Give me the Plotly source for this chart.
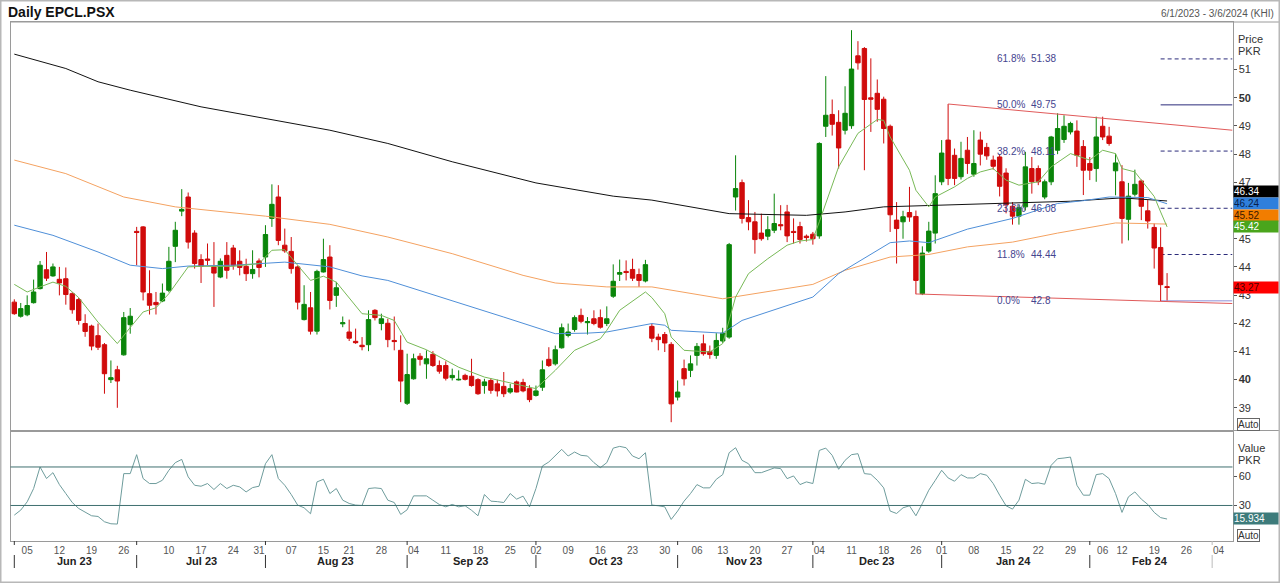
import plotly.graph_objects as go
import pandas as pd

# ---------------- data ----------------
holidays = ["2023-06-28", "2023-06-29", "2023-06-30", "2023-07-28", "2023-08-14",
            "2023-09-29", "2023-11-09", "2023-12-25", "2024-02-05", "2024-02-08"]
weekdays = [d.strftime("%Y-%m-%d") for d in pd.bdate_range("2023-06-01", "2024-02-21")]
dates = [d for d in weekdays if d not in holidays]

opens = [42.75, 42.25, 42.30, 42.73, 43.23, 43.90, 43.68, 43.56, 43.58, 43.05,
         42.84, 41.99, 41.90, 41.56, 41.24, 40.00, 40.35, 40.88, 41.95, 45.26,
         45.42, 43.05, 42.74, 42.79, 43.17, 44.73, 45.98, 46.48, 45.20, 44.26,
         44.28, 44.00, 43.64, 44.41, 44.67, 44.20, 44.02, 43.76, 44.21, 44.35,
         45.72, 46.48, 44.77, 44.55, 44.00, 42.13, 42.55, 41.72, 43.82, 44.35,
         42.99, 41.98, 41.69, 41.36, 41.22, 41.24, 42.46, 41.99, 42.00, 41.39,
         41.04, 39.16, 40.03, 40.83, 40.56, 40.90, 40.50, 40.50, 40.07, 39.99,
         40.15, 40.12, 40.00, 39.79, 39.97, 39.85, 39.76, 39.56, 39.92, 39.90,
         39.68, 39.44, 39.73, 40.72, 40.56, 41.13, 41.57, 41.78, 42.28, 42.02,
         42.16, 42.20, 41.99, 42.96, 43.74, 43.84, 43.91, 43.73, 43.50, 41.89,
         41.51, 41.60, 41.25, 39.38, 40.39, 40.33, 40.86, 41.27, 41.00, 40.86,
         41.37, 41.51, 46.48, 46.99, 45.75, 45.60, 45.20, 45.09, 45.30, 45.50,
         45.95, 45.26, 45.43, 45.09, 45.16, 45.10, 48.99, 49.41, 49.13, 48.85,
         49.01, 51.49, 51.75, 50.00, 50.16, 49.95, 48.99, 45.66, 45.60, 45.93,
         45.79, 43.05, 44.56, 45.20, 47.02, 48.50, 47.96, 47.20, 48.14, 47.29,
         48.50, 48.24, 47.79, 47.90, 47.33, 46.15, 45.80, 46.13, 47.49, 47.49,
         46.48, 47.02, 48.14, 48.52, 48.79, 48.82, 48.27, 47.67, 47.49, 48.99,
         48.64, 47.41, 47.02, 45.69, 46.58, 47.05, 45.99, 45.40, 44.69, 43.30]
highs = [42.85, 42.72, 42.99, 43.55, 44.21, 44.53, 44.12, 44.00, 43.98, 43.10,
         42.90, 42.32, 41.95, 41.99, 41.30, 40.68, 40.49, 42.40, 42.54, 45.42,
         45.45, 43.88, 43.11, 43.41, 44.71, 45.60, 46.76, 46.64, 45.30, 44.45,
         44.83, 44.88, 44.30, 44.88, 44.78, 44.59, 44.29, 44.59, 44.30, 45.48,
         46.93, 46.90, 45.36, 45.06, 44.05, 43.35, 43.11, 43.90, 45.00, 44.77,
         43.47, 42.24, 42.13, 41.81, 41.51, 42.46, 42.50, 42.34, 42.16, 42.24,
         41.57, 40.92, 40.92, 40.94, 41.04, 41.01, 40.68, 40.65, 40.39, 40.33,
         40.21, 40.74, 40.05, 40.03, 40.05, 40.00, 40.27, 39.85, 39.97, 40.03,
         39.80, 39.79, 40.68, 41.15, 41.21, 41.99, 41.99, 42.28, 42.52, 42.22,
         42.46, 42.49, 42.60, 44.09, 44.26, 44.23, 44.29, 43.94, 44.25, 41.99,
         41.63, 41.69, 41.33, 39.97, 40.71, 40.86, 41.30, 41.60, 41.21, 41.65,
         41.84, 44.85, 47.96, 47.10, 46.37, 45.95, 45.89, 45.80, 46.60, 46.19,
         46.20, 45.72, 45.60, 45.15, 45.24, 48.42, 50.77, 49.94, 49.56, 50.41,
         52.40, 52.01, 51.80, 51.40, 50.65, 50.04, 49.05, 46.30, 45.99, 46.84,
         46.00, 44.73, 45.60, 47.25, 48.50, 49.78, 48.20, 48.44, 48.61, 48.85,
         48.80, 48.40, 47.95, 48.00, 47.50, 46.30, 46.20, 48.08, 47.90, 47.60,
         47.10, 48.65, 49.45, 49.38, 49.15, 49.20, 48.50, 47.90, 49.33, 49.33,
         48.97, 48.02, 47.61, 46.98, 47.45, 47.10, 46.37, 45.54, 45.40, 43.78]
lows = [42.30, 42.20, 42.25, 42.70, 43.20, 43.50, 43.65, 42.99, 42.66, 42.34,
        41.95, 41.52, 41.04, 41.05, 39.50, 39.88, 39.00, 40.85, 41.63, 44.06,
        42.81, 42.31, 42.31, 42.75, 43.10, 44.17, 45.80, 44.65, 43.94, 43.43,
        44.06, 42.58, 43.60, 43.58, 43.90, 43.70, 43.50, 43.58, 43.63, 44.00,
        45.42, 44.77, 44.50, 43.76, 42.49, 42.10, 41.60, 41.60, 43.80, 42.49,
        42.58, 41.86, 41.37, 41.27, 41.04, 41.01, 42.10, 41.75, 41.15, 41.04,
        39.20, 39.10, 40.00, 40.50, 40.03, 40.45, 40.21, 39.97, 39.97, 39.97,
        39.97, 39.75, 39.46, 39.50, 39.50, 39.40, 39.38, 39.50, 39.55, 39.55,
        39.20, 39.40, 39.60, 40.45, 40.50, 41.10, 41.50, 41.70, 42.00, 41.60,
        41.93, 41.81, 41.90, 42.90, 43.50, 43.52, 43.50, 43.29, 43.45, 41.33,
        41.04, 40.98, 38.49, 39.26, 39.79, 40.09, 40.50, 40.85, 40.74, 40.74,
        41.30, 41.45, 46.00, 45.54, 45.30, 44.47, 44.93, 44.95, 45.20, 45.30,
        44.88, 44.83, 44.83, 44.90, 44.79, 45.00, 48.61, 48.66, 47.49, 48.70,
        48.90, 51.00, 47.43, 48.79, 49.15, 48.38, 45.24, 44.12, 45.00, 45.60,
        43.03, 43.00, 44.50, 44.83, 46.90, 46.90, 46.90, 47.10, 47.30, 47.20,
        47.60, 47.80, 47.45, 46.50, 45.90, 45.50, 45.50, 46.00, 46.60, 46.90,
        46.40, 46.90, 48.00, 48.40, 48.70, 47.55, 46.55, 47.08, 47.02, 48.50,
        48.30, 46.54, 44.83, 44.94, 46.50, 45.66, 45.36, 43.94, 42.79, 42.81]
closes = [42.34, 42.52, 42.63, 43.11, 44.06, 43.60, 44.00, 43.43, 43.02, 42.48,
          42.10, 41.71, 41.19, 41.15, 40.21, 40.07, 39.95, 42.20, 42.25, 45.22,
          43.11, 42.64, 42.66, 43.07, 44.20, 45.30, 46.04, 44.88, 44.12, 44.02,
          44.24, 43.78, 44.20, 43.88, 44.06, 43.98, 43.76, 43.91, 43.98, 45.15,
          46.22, 44.94, 44.57, 43.94, 42.75, 42.67, 41.72, 43.84, 44.26, 42.81,
          43.26, 42.02, 41.47, 41.31, 41.17, 42.13, 42.20, 42.16, 41.42, 41.35,
          39.95, 40.18, 40.74, 40.72, 40.74, 40.50, 40.30, 40.05, 40.15, 40.01,
          40.01, 39.79, 39.50, 39.92, 39.62, 39.60, 39.50, 39.68, 39.56, 39.60,
          39.29, 39.60, 40.35, 40.50, 41.06, 41.84, 41.69, 42.20, 42.07, 42.06,
          41.99, 41.86, 42.16, 43.49, 43.80, 43.80, 43.60, 43.52, 44.08, 41.47,
          41.42, 41.30, 39.14, 39.56, 40.03, 40.56, 41.18, 40.92, 40.89, 41.39,
          41.65, 44.79, 46.78, 45.72, 45.60, 44.97, 45.00, 45.32, 45.54, 45.46,
          45.10, 45.22, 44.97, 45.04, 45.00, 48.38, 49.38, 49.06, 48.22, 49.45,
          51.02, 51.24, 49.94, 49.95, 49.59, 48.91, 45.85, 45.36, 45.78, 45.77,
          43.52, 44.49, 45.27, 46.60, 48.04, 47.14, 47.14, 47.85, 47.67, 47.67,
          48.00, 47.94, 47.57, 46.86, 46.20, 45.80, 46.10, 47.55, 47.02, 47.02,
          47.02, 48.61, 48.91, 48.99, 49.09, 47.96, 47.43, 47.43, 48.61, 48.61,
          48.38, 47.69, 45.72, 46.51, 46.93, 46.15, 45.63, 44.67, 43.37, 43.27]

rsi = [20.0, 25.2, 33.8, 47.6, 70.0, 58.0, 64.1, 51.7, 42.4, 33.1,
       26.9, 23.0, 19.3, 18.6, 13.1, 11.0, 10.7, 63.1, 63.1, 82.8,
       58.0, 52.8, 52.8, 56.2, 66.6, 74.5, 77.9, 59.7, 51.0, 50.0,
       52.8, 46.6, 52.8, 47.6, 51.0, 49.3, 44.1, 48.6, 50.0, 73.4,
       82.8, 58.0, 51.0, 41.4, 30.4, 27.6, 21.4, 54.5, 57.2, 42.4,
       47.6, 35.5, 32.1, 30.4, 30.0, 47.6, 48.3, 47.6, 35.5, 33.1,
       20.7, 25.5, 40.0, 40.0, 40.0, 35.5, 31.0, 28.6, 31.1, 28.6,
       29.7, 25.0, 19.3, 41.4, 34.5, 34.0, 33.1, 42.4, 36.6, 39.7,
       28.6, 47.6, 71.0, 75.2, 82.0, 88.3, 81.4, 85.5, 82.1, 81.4,
       74.5, 69.3, 74.5, 89.6, 91.4, 90.0, 81.4, 78.6, 84.8, 30.4,
       29.7, 28.6, 15.5, 24.2, 34.5, 42.4, 51.7, 48.3, 48.3, 57.2,
       62.1, 84.8, 90.0, 76.9, 73.4, 64.1, 64.1, 66.6, 69.0, 68.3,
       57.9, 60.7, 51.7, 54.5, 52.8, 87.2, 89.6, 82.1, 67.6, 76.9,
       82.8, 83.8, 63.1, 62.4, 56.2, 48.3, 24.2, 21.7, 27.6, 29.7,
       19.3, 32.1, 45.9, 56.0, 66.6, 58.6, 55.2, 62.1, 58.6, 58.6,
       63.1, 61.4, 52.8, 40.7, 29.7, 26.2, 35.5, 57.2, 52.8, 53.5,
       52.1, 71.7, 78.6, 79.3, 80.3, 51.0, 40.7, 40.7, 62.1, 63.1,
       57.9, 42.4, 22.8, 39.0, 44.1, 36.6, 31.1, 22.8, 17.4, 15.934]

# moving averages (trading-day index -> value)
ma_black_idx = [0, 8, 13, 18, 29, 39, 49, 58, 68, 81, 93, 99, 111, 123, 129, 135, 148, 164, 172, 179]
ma_black = [51.55, 51.04, 50.57, 50.27, 49.68, 49.27, 48.85, 48.38, 47.73, 46.98,
            46.51, 46.37, 45.89, 45.83, 45.95, 46.13, 46.22, 46.33, 46.45, 46.34]
ma_orange_idx = [0, 8, 17, 25, 39, 44, 49, 58, 68, 79, 84, 92, 99, 110, 118, 124, 129, 136, 142, 148, 155, 162, 171, 179]
ma_orange = [47.79, 47.31, 46.48, 46.13, 45.80, 45.66, 45.51, 45.06, 44.47, 43.70,
             43.43, 43.29, 43.29, 42.87, 43.17, 43.38, 43.88, 44.35, 44.44, 44.71,
             44.88, 45.20, 45.56, 45.52]
ma_blue_idx = [0, 6, 13, 18, 23, 27, 34, 39, 42, 49, 54, 58, 68, 76, 84, 89, 92, 99, 101, 102,
               110, 113, 124, 128, 136, 139, 142, 148, 155, 162, 166, 170, 176, 179]
ma_blue = [45.48, 45.12, 44.53, 44.06, 43.94, 44.03, 44.06, 44.12, 44.17, 44.00,
           43.68, 43.52, 42.81, 42.22, 41.63, 41.65, 41.69, 41.99, 41.93, 41.75,
           41.65, 42.10, 42.93, 43.76, 44.86, 44.92, 44.86, 45.34, 45.72, 46.25,
           46.35, 46.48, 46.46, 46.24]
ma_green_idx = [0, 2, 4, 6, 8, 10, 13, 16, 18, 20, 22, 24, 27, 29, 34, 38, 40, 42, 44, 46,
                48, 50, 54, 57, 59, 61, 64, 66, 69, 73, 77, 81, 84, 87, 91, 92, 94, 98, 99, 101,
                102, 104, 108, 110, 112, 114, 117, 120, 122, 124, 125, 128, 131, 134, 135, 136, 139, 140, 142, 143,
                146, 148, 150, 152, 154, 156, 159, 161, 164, 167, 169, 171, 172, 174, 175, 177, 178, 179]
ma_green = [43.38, 43.11, 43.29, 43.46, 43.31, 42.91, 42.04, 41.28, 41.85, 42.40,
            42.55, 43.05, 44.00, 44.02, 44.02, 44.12, 44.59, 44.61, 44.06, 43.52,
            43.67, 43.46, 42.34, 42.28, 42.10, 41.33, 41.06, 40.80, 40.44, 40.09,
            39.88, 39.68, 40.33, 41.04, 41.45, 41.75, 42.46, 43.11, 42.91, 42.34,
            41.51, 41.04, 40.98, 41.28, 42.93, 43.76, 44.29, 44.77, 44.92, 44.97,
            45.60, 47.55, 48.74, 49.23, 49.20, 48.61, 47.43, 46.72, 46.13, 46.48,
            46.84, 47.14, 47.37, 47.49, 47.08, 46.90, 47.02, 47.55, 48.02, 47.79,
            48.14, 48.02, 47.49, 47.37, 47.08, 46.50, 45.95, 45.42]

fib_pct = ["61.8%", "50.0%", "38.2%", "23.6%", "11.8%", "0.0%"]
fib_val = [51.38, 49.75, 48.11, 46.08, 44.44, 42.8]

tick_dates = ["2023-06-05", "2023-06-12", "2023-06-19", "2023-06-26", "2023-07-10", "2023-07-17",
              "2023-07-24", "2023-07-31", "2023-08-07", "2023-08-15", "2023-08-21", "2023-08-28",
              "2023-09-04", "2023-09-11", "2023-09-18", "2023-09-25", "2023-10-02", "2023-10-09",
              "2023-10-16", "2023-10-23", "2023-10-30", "2023-11-06", "2023-11-13", "2023-11-20",
              "2023-11-27", "2023-12-04", "2023-12-11", "2023-12-18", "2023-12-26", "2024-01-01",
              "2024-01-08", "2024-01-15", "2024-01-22", "2024-01-29", "2024-02-06", "2024-02-12",
              "2024-02-19", "2024-02-26", "2024-03-04"]
tick_text = [d[-2:] for d in tick_dates]
month_names = ["Jun 23", "Jul 23", "Aug 23", "Sep 23", "Oct 23", "Nov 23", "Dec 23", "Jan 24", "Feb 24"]
month_label_x = ["2023-06-14 08:00", "2023-07-17 00:00", "2023-08-16 20:00", "2023-09-14 20:00",
                 "2023-10-16 20:00", "2023-11-16 08:00", "2023-12-14 22:00", "2024-01-16 05:00",
                 "2024-02-16 07:00"]
month_starts = ["2023-06-01", "2023-07-03", "2023-08-01", "2023-09-01", "2023-10-02", "2023-11-01",
                "2023-12-01", "2024-01-01", "2024-02-01", "2024-03-01"]

last_values = [("46.34", "#000000", "#ffffff"), ("46.24", "#2f7fdc", "#0a1f4a"),
               ("45.52", "#f27d00", "#3a1800"), ("45.42", "#4aa51c", "#ffffff"),
               ("43.27", "#ff0000", "#4a0000")]

price_ticks = [39, 40, 41, 42, 43, 44, 45, 47, 48, 49, 50, 51]
rsi_ticks = [30, 60]

# ---------------- styling / geometry ----------------
W, H = 1280, 583
FONT = "Liberation Sans, Arial, sans-serif"
GREEN, RED = "#0a850a", "#d00b0b"
X_START, X_END = "2023-05-31 09:50", "2024-03-06 03:50"


def px(x):
    return x / W


def py(y):
    return 1 - y / H


fig = go.Figure()

fig.add_trace(go.Candlestick(
    x=dates, open=opens, high=highs, low=lows, close=closes,
    increasing=dict(line=dict(color=GREEN, width=1), fillcolor=GREEN),
    decreasing=dict(line=dict(color=RED, width=1), fillcolor=RED),
    whiskerwidth=0, showlegend=False, hoverinfo="skip", xaxis="x", yaxis="y"))

for idx, vals, col in [(ma_black_idx, ma_black, "#111111"),
                       (ma_orange_idx, ma_orange, "#f4a261"),
                       (ma_blue_idx, ma_blue, "#4f8fd8"),
                       (ma_green_idx, ma_green, "#78b957")]:
    fig.add_trace(go.Scatter(x=[dates[i] for i in idx], y=vals, mode="lines",
                             line=dict(color=col, width=1), showlegend=False,
                             hoverinfo="skip", xaxis="x", yaxis="y"))

fig.add_trace(go.Scatter(x=dates, y=rsi, mode="lines", line=dict(color="#6e9c9c", width=1),
                         showlegend=False, hoverinfo="skip", xaxis="x2", yaxis="y2"))

shapes = []
annotations = []

# RSI guide lines
for lvl in [70, 30]:
    shapes.append(dict(type="line", xref="x2 domain", yref="y2", x0=0, x1=1, y0=lvl, y1=lvl,
                       line=dict(color="#3f7070", width=1)))

# Fibonacci levels
for pct, val in zip(fib_pct, fib_val):
    if pct == "50.0%":
        ln = dict(color="#2b2b7a", width=1)
    elif pct == "0.0%":
        ln = dict(color="#b4b4e4", width=1.5)
    else:
        ln = dict(color="#2b2b7a", width=1, dash="4px,3px")
    shapes.append(dict(type="line", xref="x", yref="y", x0=dates[178], x1=X_END, y0=val, y1=val,
                       line=ln, layer="below"))
    annotations.append(dict(xref="paper", yref="y", x=px(995), y=val, xanchor="left", yanchor="middle",
                            text=pct, showarrow=False, font=dict(family=FONT, size=10, color="#45458f")))
    annotations.append(dict(xref="paper", yref="y", x=px(1029), y=val, xanchor="left", yanchor="middle",
                            text=f"{val:g}", showarrow=False, font=dict(family=FONT, size=10, color="#45458f")))

# trend channel lines
shapes.append(dict(type="line", xref="x", yref="y", x0=dates[145], y0=49.78, x1=X_END, y1=48.85,
                   line=dict(color="#e05a5a", width=1)))
shapes.append(dict(type="line", xref="x", yref="y", x0=dates[140], y0=43.04, x1=X_END, y1=42.70,
                   line=dict(color="#e05a5a", width=1)))

# frame lines
shapes.append(dict(type="line", xref="paper", yref="paper", x0=px(10), x1=1, y0=py(22), y1=py(22),
                   line=dict(color="#9a9a9a", width=1)))
shapes.append(dict(type="line", xref="paper", yref="paper", x0=px(10), x1=1, y0=py(430.5), y1=py(430.5),
                   line=dict(color="#9a9a9a", width=1)))
shapes.append(dict(type="rect", xref="paper", yref="paper", x0=0, x1=1, y0=0, y1=1,
                   line=dict(color="#b8b8b8", width=3)))

# month separators
for i, d in enumerate(month_starts):
    col = "#bbbbbb" if i == len(month_starts) - 1 else "#333333"
    shapes.append(dict(type="line", xref="x2", yref="paper", x0=d, x1=d, y0=py(555), y1=py(568),
                       line=dict(color=col, width=1)))
    shapes.append(dict(type="line", xref="x2", yref="paper", x0=d, x1=d, y0=py(541), y1=py(545),
                       line=dict(color=col, width=1)))

for name, xd in zip(month_names, month_label_x):
    annotations.append(dict(xref="x2", yref="paper", x=xd, y=py(561), text=f"<b>{name}</b>",
                            showarrow=False, xanchor="center", yanchor="middle",
                            font=dict(family=FONT, size=11, color="#222222")))

# last-value badges
badge_y = [192.0, 203.5, 215.0, 226.5, 287.0]
for (txt, bg, fc), yc in zip(last_values, badge_y):
    annotations.append(dict(xref="paper", yref="paper", x=px(1232.5), y=py(yc), xanchor="left",
                            yanchor="middle", text=txt, showarrow=False, bgcolor=bg, width=44, height=11,
                            align="left", borderpad=0, font=dict(family=FONT, size=10, color=fc)))
annotations.append(dict(xref="paper", yref="paper", x=px(1232.5), y=py(518.5), xanchor="left",
                        yanchor="middle", text="15.934", showarrow=False, bgcolor="#3d7b7b", width=44,
                        height=11, align="left", borderpad=0, font=dict(family=FONT, size=10, color="#ffffff")))

# axis captions and misc text
for txt, yc in [("Price", 39), ("PKR", 51), ("Value", 447.5), ("PKR", 460)]:
    annotations.append(dict(xref="paper", yref="paper", x=px(1236), y=py(yc), xanchor="left",
                            yanchor="middle", text=txt, showarrow=False,
                            font=dict(family=FONT, size=11, color="#333333")))
for yc in [424, 535]:
    annotations.append(dict(xref="paper", yref="paper", x=px(1237), y=py(yc), xanchor="left",
                            yanchor="middle", text="Auto", showarrow=False, bordercolor="#666666",
                            borderwidth=1, borderpad=0, font=dict(family=FONT, size=10, color="#333333")))
annotations.append(dict(xref="paper", yref="paper", x=px(6), y=py(12), xanchor="left", yanchor="middle",
                        text="<b>Daily EPCL.PSX</b>", showarrow=False,
                        font=dict(family=FONT, size=14, color="#111111")))
annotations.append(dict(xref="paper", yref="paper", x=px(1276), y=py(13), xanchor="right", yanchor="middle",
                        text="6/1/2023 - 3/6/2024 (KHI)", showarrow=False,
                        font=dict(family=FONT, size=10, color="#555555")))

price_text = [f"<b>{v}</b>" if v in (40, 50) else str(v) for v in price_ticks]

rb = [dict(bounds=["sat", "mon"]), dict(values=holidays)]
axis_common = dict(showgrid=False, zeroline=False, showline=True, linecolor="#9a9a9a", linewidth=1,
                   mirror=True)

fig.update_layout(
    width=W, height=H, margin=dict(l=0, r=0, t=0, b=0),
    paper_bgcolor="white", plot_bgcolor="white", showlegend=False,
    boxgap=0.32, boxgroupgap=0,
    font=dict(family=FONT, size=11, color="#333333"),
    xaxis=dict(domain=[px(10.5), px(1232.5)], anchor="y", range=[X_START, X_END], rangebreaks=rb,
               showticklabels=False, ticks="", rangeslider=dict(visible=False), **axis_common),
    xaxis2=dict(domain=[px(10.5), px(1232.5)], anchor="y2", matches="x", range=[X_START, X_END],
                rangebreaks=rb, tickmode="array", tickvals=tick_dates, ticktext=tick_text, ticks="",
                tickfont=dict(family=FONT, size=10, color="#555555"), **axis_common),
    yaxis=dict(domain=[py(430.5), py(22)], anchor="x", side="right", range=[38.195, 52.69],
               tickmode="array", tickvals=price_ticks, ticktext=price_text, ticks="outside", ticklen=3,
               tickcolor="#555555", tickfont=dict(family=FONT, size=11, color="#333333"), **axis_common),
    yaxis2=dict(domain=[py(541), py(430.5)], anchor="x2", side="right", range=[-6.9, 107.9],
                tickmode="array", tickvals=rsi_ticks, ticktext=[str(v) for v in rsi_ticks], ticks="outside",
                ticklen=3, tickcolor="#555555", tickfont=dict(family=FONT, size=11, color="#333333"),
                **axis_common),
    shapes=shapes, annotations=annotations,
)

fig.write_html("out.html", config={"displayModeBar": False, "staticPlot": True},
               post_script="document.body.style.margin='0';")
